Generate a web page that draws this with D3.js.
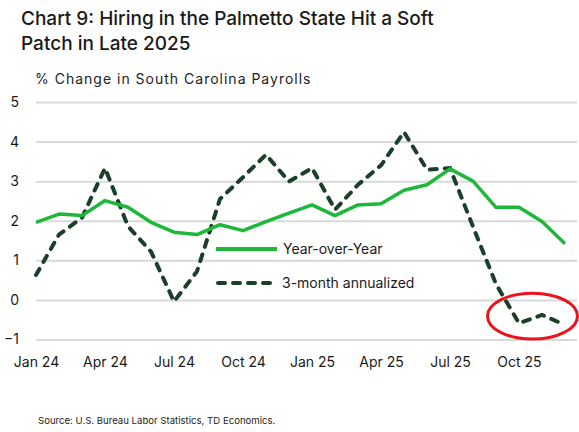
<!DOCTYPE html>
<html>
<head>
<meta charset="utf-8">
<script src="https://cdn.jsdelivr.net/npm/d3@7"></script>
<style>
  body { margin: 0; background: #fff; }
  text { font-family: Inter, "Noto Sans", sans-serif; fill: #1a1a1a; }
</style>
</head>
<body>
<div class="chart-container"></div>
<script>
// months on the x axis
const months = ['Jan 24', 'Feb 24', 'Mar 24', 'Apr 24', 'May 24', 'Jun 24', 'Jul 24', 'Aug 24',
  'Sep 24', 'Oct 24', 'Nov 24', 'Dec 24', 'Jan 25', 'Feb 25', 'Mar 25', 'Apr 25',
  'May 25', 'Jun 25', 'Jul 25', 'Aug 25', 'Sep 25', 'Oct 25', 'Nov 25', 'Dec 25'];
// % change, year-over-year
const yoy = [1.96, 2.17, 2.13, 2.51, 2.34, 1.96, 1.71, 1.65, 1.90, 1.75, 1.98, 2.19,
  2.40, 2.13, 2.40, 2.43, 2.77, 2.91, 3.31, 3.00, 2.34, 2.34, 1.98, 1.42];
// % change, 3-month annualized
const annualized = [0.63, 1.65, 2.08, 3.33, 1.86, 1.22, -0.04, 0.72, 2.55, 3.10, 3.67, 2.99,
  3.33, 2.28, 2.91, 3.40, 4.24, 3.29, 3.33, 1.85, 0.40, -0.59, -0.38, -0.63];
const xTicks = ['Jan 24', 'Apr 24', 'Jul 24', 'Oct 24', 'Jan 25', 'Apr 25', 'Jul 25', 'Oct 25'];
const yTicks = [-1, 0, 1, 2, 3, 4, 5];
const seriesNames = ['Year-over-Year', '3-month annualized'];

const svg_width = 579;
const svg_height = 432;
const plot = { left: 36, right: 565, gridRight: 577, top: 102, bottom: 339.5 };

const svg = d3.select('.chart-container').append('svg')
  .attr('width', svg_width).attr('height', svg_height);

// scales
const xScale = d3.scalePoint().domain(months).range([plot.left, plot.right]);
const yScale = d3.scaleLinear().domain([-1, 5]).range([plot.bottom, plot.top]);

// titles
const title = svg.append('text').attr('x', 21).attr('y', 25)
  .style('font-size', '19px').style('font-weight', 500);
title.append('tspan').text('Chart 9: Hiring in the Palmetto State Hit a Soft');
title.append('tspan').attr('x', 21).attr('dy', 25).text('Patch in Late 2025');

svg.append('text').attr('x', 35).attr('y', 84)
  .style('font-size', '14px').style('letter-spacing', '1px').style('fill', '#222')
  .text('% Change in South Carolina Payrolls');

// y axis = gridlines + labels
const yAxis = d3.axisLeft(yScale).tickValues(yTicks).tickFormat(d3.format('d'))
  .tickSize(-(plot.gridRight - plot.left)).tickPadding(17);
const yAxisDraw = svg.append('g').attr('transform', `translate(${plot.left},0)`).call(yAxis);
yAxisDraw.select('.domain').remove();
yAxisDraw.selectAll('line').attr('stroke', '#d9d9d9').attr('stroke-width', 2);
yAxisDraw.selectAll('text').style('font-size', '14px').style('font-family', 'Inter, sans-serif').attr('fill', '#222');

// x axis labels
const xAxis = d3.axisBottom(xScale).tickValues(xTicks).tickSize(0).tickPadding(18);
const xAxisDraw = svg.append('g').attr('transform', `translate(0,${plot.bottom})`).call(xAxis);
xAxisDraw.select('.domain').remove();
xAxisDraw.selectAll('text').style('font-size', '14px').style('font-family', 'Inter, sans-serif').attr('fill', '#222');

// lines
const line = d3.line().x((d, i) => xScale(months[i])).y(d => yScale(d));

svg.append('path').datum(annualized)
  .attr('d', line).attr('fill', 'none')
  .attr('stroke', '#1b3f2a').attr('stroke-width', 4)
  .attr('stroke-dasharray', '7,8').attr('stroke-linecap', 'round');

svg.append('path').datum(yoy)
  .attr('d', line).attr('fill', 'none')
  .attr('stroke', '#1db83a').attr('stroke-width', 3.5)
  .attr('stroke-linejoin', 'round');

// legend
const legend = svg.append('g').attr('transform', 'translate(216,249)');
legend.append('line').attr('x1', 0).attr('x2', 61).attr('y1', 0).attr('y2', 0)
  .attr('stroke', '#1db83a').attr('stroke-width', 4);
legend.append('text').attr('x', 67).attr('y', 5).style('font-size', '14px').text(seriesNames[0]);
legend.append('line').attr('x1', 2).attr('x2', 60).attr('y1', 34).attr('y2', 34)
  .attr('stroke', '#1b3f2a').attr('stroke-width', 4)
  .attr('stroke-dasharray', '7,8').attr('stroke-linecap', 'round');
legend.append('text').attr('x', 66).attr('y', 39).style('font-size', '14px').text(seriesNames[1]);

// red circle around the late-2025 dip
const cx = (xScale('Sep 25') + xScale('Dec 25')) / 2 + 2;
svg.append('ellipse')
  .attr('cx', cx).attr('cy', yScale(-0.41))
  .attr('rx', 45).attr('ry', yScale(-0.41) - yScale(0.17))
  .attr('fill', 'none').attr('stroke', '#e8161c').attr('stroke-width', 3);

// source
svg.append('text').attr('x', 38).attr('y', 424)
  .style('font-size', '9.6px').style('fill', '#222')
  .text('Source: U.S. Bureau Labor Statistics, TD Economics.');
</script>
</body>
</html>
